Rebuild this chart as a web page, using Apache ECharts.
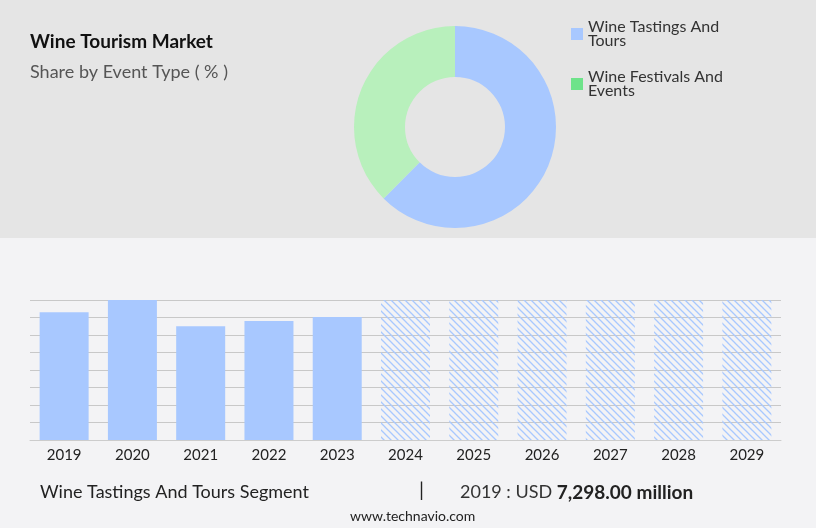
<!DOCTYPE html>
<html><head><meta charset="utf-8">
<script src="https://cdn.jsdelivr.net/npm/echarts@6/dist/echarts.min.js"></script>
<style>html,body{margin:0;padding:0;background:#f3f3f5}#c{width:816px;height:528px}</style>
</head><body><div id="c"></div>
<script>
const shareNames = ['Wine Tastings And Tours', 'Wine Festivals And Events'];
const shareValues = [62.5, 37.5];
const years = ['2019','2020','2021','2022','2023','2024','2025','2026','2027','2028','2029'];
const barValues = [7298, 8000, 6500, 6800, 7030, null, null, null, null, null, null];
const forecastValues = [null, null, null, null, null, 8000, 8000, 8000, 8000, 8000, 8000];

const chart = echarts.init(document.getElementById('c'));
const pc = document.createElement('canvas');
pc.width = 7; pc.height = 7;
const ctx = pc.getContext('2d');
ctx.strokeStyle = '#a8c8ff';
ctx.lineWidth = 1.3;
ctx.beginPath();
ctx.moveTo(-1, -1); ctx.lineTo(8, 8);
ctx.moveTo(-1, 6); ctx.lineTo(1, 8);
ctx.moveTo(6, -1); ctx.lineTo(8, 1);
ctx.stroke();

const font = 'Lato, "Open Sans", sans-serif';
chart.setOption({
    animation: false,
    backgroundColor: '#f3f3f5',
    graphic: [
        {type: 'rect', shape: {x: 0, y: 0, width: 816, height: 238}, style: {fill: '#e5e5e5'}, z: -10},
        {type: 'text', left: 30, top: 32, style: {text: 'Wine Tourism Market', fontSize: 19, fontWeight: 'bold', fill: '#111', fontFamily: font}},
        {type: 'text', left: 30, top: 63, style: {text: 'Share by Event Type ( % )', fontSize: 18, fill: '#555', fontFamily: font}},
        {type: 'text', left: 40, top: 483, style: {text: 'Wine Tastings And Tours Segment', fontSize: 18, fill: '#222', fontFamily: font}},
        {type: 'text', left: 419, top: 481, style: {text: '|', fontSize: 20, fill: '#222', fontFamily: font}},
        {type: 'text', left: 460, top: 483, style: {rich: {a: {fontSize: 18, fill: '#333', fontFamily: font}, b: {fontSize: 19, fontWeight: 'bold', fill: '#222', fontFamily: font}}, text: '{a|2019 : USD }{b|7,298.00 million}'}},
        {type: 'text', left: 350, top: 509, style: {text: 'www.technavio.com', fontSize: 14, fill: '#222', fontFamily: font}}
    ],
    legend: {
        orient: 'vertical', left: 566, top: 14, itemWidth: 12, itemHeight: 12, itemGap: 20,
        icon: 'rect',
        textStyle: {fontSize: 16, color: '#333', fontFamily: font, lineHeight: 14, width: 170, overflow: 'break'},
        data: [
            {name: shareNames[0], itemStyle: {color: '#a8c8ff'}},
            {name: shareNames[1], itemStyle: {color: '#6ee38a'}}
        ]
    },
    grid: {left: 30, right: 35, top: 300, bottom: 88},
    xAxis: {
        type: 'category', data: years,
        axisLine: {lineStyle: {color: '#ccc'}}, axisTick: {show: false},
        axisLabel: {color: '#222', fontSize: 15, fontFamily: font, margin: 8}
    },
    yAxis: {
        type: 'value', min: 0, max: 8000, interval: 1000,
        axisLabel: {show: false}, axisLine: {show: false}, axisTick: {show: false},
        splitLine: {lineStyle: {color: '#c8c8c8'}}
    },
    series: [
        {
            type: 'pie', radius: [50, 101], center: [455, 127], startAngle: 90,
            label: {show: false}, labelLine: {show: false}, silent: true,
            data: [
                {name: shareNames[0], value: shareValues[0], itemStyle: {color: '#a8c8ff'}},
                {name: shareNames[1], value: shareValues[1], itemStyle: {color: '#b8f0bc'}}
            ]
        },
        {type: 'bar', data: barValues, barWidth: 49, stack: 'a', itemStyle: {color: '#a8c8ff'}, z: 1},
        {type: 'bar', data: forecastValues, barWidth: 49, stack: 'a', itemStyle: {color: {image: pc, repetition: 'repeat'}}, z: 1}
    ]
});
</script></body></html>
